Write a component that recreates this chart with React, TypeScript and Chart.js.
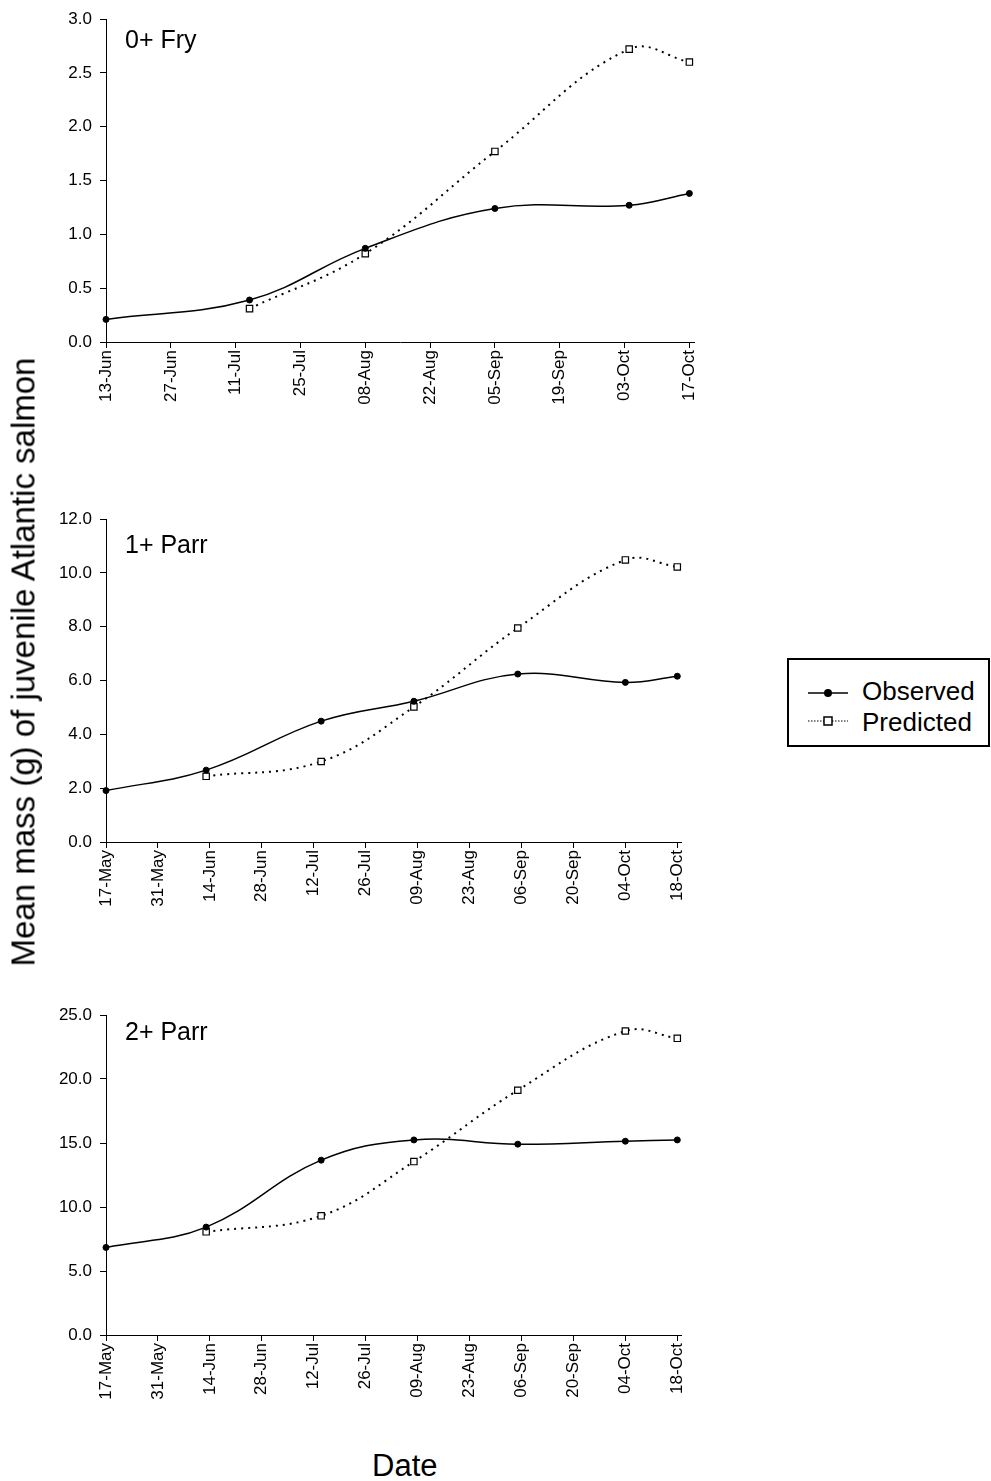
import React, { useEffect, useRef } from 'react';
import { Chart, registerables } from 'chart.js';

Chart.register(...registerables);

const FONT = '"Liberation Sans", Arial, Helvetica, sans-serif';

// ---- Panel 1: 0+ Fry (x = day of year) ----
const fryTickDays = [164, 178, 192, 206, 220, 234, 248, 262, 276, 290];
const fryTickLabels = ['13-Jun', '27-Jun', '11-Jul', '25-Jul', '08-Aug', '22-Aug', '05-Sep', '19-Sep', '03-Oct', '17-Oct'];
const fryObsDays = [164, 195, 220, 248, 277, 290];
const fryObsMass = [0.21, 0.39, 0.87, 1.24, 1.27, 1.38];
const fryPredDays = [195, 220, 248, 277, 290];
const fryPredMass = [0.31, 0.82, 1.77, 2.72, 2.6];

// ---- Panels 2 and 3: shared date ticks ----
const parrTickDays = [137, 151, 165, 179, 193, 207, 221, 235, 249, 263, 277, 291];
const parrTickLabels = ['17-May', '31-May', '14-Jun', '28-Jun', '12-Jul', '26-Jul', '09-Aug', '23-Aug', '06-Sep', '20-Sep', '04-Oct', '18-Oct'];

// ---- Panel 2: 1+ Parr ----
const parr1ObsDays = [137, 164, 195, 220, 248, 277, 291];
const parr1ObsMass = [1.91, 2.67, 4.49, 5.23, 6.24, 5.93, 6.16];
const parr1PredDays = [164, 195, 220, 248, 277, 291];
const parr1PredMass = [2.44, 2.99, 5.02, 7.95, 10.48, 10.22];

// ---- Panel 3: 2+ Parr ----
const parr2ObsDays = [137, 164, 195, 220, 248, 277, 291];
const parr2ObsMass = [6.84, 8.43, 13.66, 15.24, 14.91, 15.14, 15.24];
const parr2PredDays = [164, 195, 220, 248, 277, 291];
const parr2PredMass = [8.06, 9.31, 13.55, 19.12, 23.75, 23.18];

const seriesNames = ['Observed', 'Predicted'];

type PanelCfg = {
  label: string;
  top: number;
  height: number;
  padTop: number;
  padRight: number;
  labelBaseline: number;
  xMin: number;
  xMax: number;
  tickDays: number[];
  tickLabels: string[];
  yMax: number;
  yStep: number;
  obsDays: number[];
  obsMass: number[];
  predDays: number[];
  predMass: number[];
};

const panels: PanelCfg[] = [
  {
    label: '0+ Fry', top: 0, height: 407, padTop: 19, padRight: 26, labelBaseline: 48,
    xMin: 164, xMax: 291, tickDays: fryTickDays, tickLabels: fryTickLabels, yMax: 3, yStep: 0.5,
    obsDays: fryObsDays, obsMass: fryObsMass, predDays: fryPredDays, predMass: fryPredMass,
  },
  {
    label: '1+ Parr', top: 500, height: 407, padTop: 19, padRight: 39, labelBaseline: 53,
    xMin: 137, xMax: 292, tickDays: parrTickDays, tickLabels: parrTickLabels, yMax: 12, yStep: 2,
    obsDays: parr1ObsDays, obsMass: parr1ObsMass, predDays: parr1PredDays, predMass: parr1PredMass,
  },
  {
    label: '2+ Parr', top: 996, height: 404, padTop: 19, padRight: 39, labelBaseline: 44,
    xMin: 137, xMax: 292, tickDays: parrTickDays, tickLabels: parrTickLabels, yMax: 25, yStep: 5,
    obsDays: parr2ObsDays, obsMass: parr2ObsMass, predDays: parr2PredDays, predMass: parr2PredMass,
  },
];

const CANVAS_W = 720;
const AXIS_LEFT = 106;
const X_AXIS_H = 65;

function Panel({ cfg }: { cfg: PanelCfg }) {
  const ref = useRef<HTMLCanvasElement | null>(null);
  useEffect(() => {
    if (!ref.current) return;
    const labelPlugin = {
      id: 'panelLabel',
      afterDraw(chart: any) {
        const ctx = chart.ctx;
        ctx.save();
        ctx.font = `25px ${FONT}`;
        ctx.fillStyle = '#000';
        ctx.textBaseline = 'alphabetic';
        ctx.textAlign = 'left';
        ctx.fillText(cfg.label, 125, cfg.labelBaseline);
        ctx.restore();
      },
    };
    const tickFont = { family: FONT, size: 17 };
    const chart = new Chart(ref.current, {
      type: 'line',
      data: {
        datasets: [
          {
            label: seriesNames[0],
            data: cfg.obsDays.map((d, i) => ({ x: d, y: cfg.obsMass[i] })),
            borderColor: '#000',
            borderWidth: 1.5,
            tension: 0.4,
            pointStyle: 'circle',
            pointRadius: 3,
            pointBackgroundColor: '#000',
            pointBorderColor: '#000',
            pointBorderWidth: 1,
            clip: false,
          },
          {
            label: seriesNames[1],
            data: cfg.predDays.map((d, i) => ({ x: d, y: cfg.predMass[i] })),
            borderColor: '#000',
            borderWidth: 2,
            borderDash: [2, 5],
            tension: 0.4,
            pointStyle: 'rect',
            pointRadius: 4.5,
            pointBackgroundColor: '#fff',
            pointBorderColor: '#000',
            pointBorderWidth: 1.2,
            clip: false,
          },
        ],
      },
      options: {
        animation: false,
        responsive: false,
        maintainAspectRatio: false,
        layout: { padding: { top: cfg.padTop, right: cfg.padRight, left: 0, bottom: 0 } },
        plugins: { legend: { display: false }, tooltip: { enabled: false }, title: { display: false } },
        scales: {
          x: {
            type: 'linear',
            min: cfg.xMin,
            max: cfg.xMax,
            afterBuildTicks: (scale: any) => {
              scale.ticks = cfg.tickDays.map((v) => ({ value: v }));
            },
            afterFit: (scale: any) => {
              scale.height = X_AXIS_H;
            },
            ticks: {
              autoSkip: false,
              minRotation: 90,
              maxRotation: 90,
              padding: 2,
              color: '#000',
              font: tickFont,
              callback: (_v: any, i: number) => cfg.tickLabels[i],
            },
            grid: { display: true, drawOnChartArea: false, drawTicks: true, tickLength: 6, tickColor: '#000', tickWidth: 1 },
            border: { display: true, color: '#000', width: 1 },
          },
          y: {
            type: 'linear',
            min: 0,
            max: cfg.yMax,
            afterFit: (scale: any) => {
              scale.width = AXIS_LEFT;
            },
            ticks: {
              stepSize: cfg.yStep,
              padding: 8,
              color: '#000',
              font: tickFont,
              callback: (v: any) => Number(v).toFixed(1),
            },
            grid: { display: true, drawOnChartArea: false, drawTicks: true, tickLength: 6, tickColor: '#000', tickWidth: 1 },
            border: { display: true, color: '#000', width: 1 },
          },
        },
      },
      plugins: [labelPlugin],
    } as any);
    return () => chart.destroy();
  }, [cfg]);
  return (
    <canvas
      ref={ref}
      width={CANVAS_W}
      height={cfg.height}
      style={{ position: 'absolute', left: 0, top: cfg.top, width: CANVAS_W, height: cfg.height, display: 'block' }}
    />
  );
}

export default function App() {
  return (
    <div
      style={{
        position: 'absolute', left: 0, top: 0, width: 991, height: 1481,
        background: '#fff', fontFamily: FONT, color: '#000', overflow: 'hidden',
      }}
    >
      {panels.map((p) => (
        <Panel key={p.label} cfg={p} />
      ))}

      {/* Y axis title */}
      <div
        style={{
          position: 'absolute', left: 23, top: 662, fontSize: 33, lineHeight: '33px',
          whiteSpace: 'nowrap', transform: 'translate(-50%, -50%) rotate(-90deg)',
        }}
      >
        Mean mass (g) of juvenile Atlantic salmon
      </div>

      {/* X axis title */}
      <div style={{ position: 'absolute', left: 372, top: 1450, fontSize: 31, lineHeight: '31px', whiteSpace: 'nowrap' }}>
        Date
      </div>

      {/* Legend */}
      <div
        style={{
          position: 'absolute', left: 787, top: 658, width: 203, height: 89,
          border: '2px solid #000', boxSizing: 'border-box',
        }}
      />
      <svg style={{ position: 'absolute', left: 805, top: 680 }} width={50} height={50}>
        <line x1={3} y1={13} x2={43} y2={13} stroke="#000" strokeWidth={1.5} />
        <circle cx={23} cy={13} r={4} fill="#000" />
        <line x1={3} y1={41} x2={43} y2={41} stroke="#000" strokeWidth={1} strokeDasharray="1.5 1.5" />
        <rect x={19} y={37} width={8} height={8} fill="#fff" stroke="#000" strokeWidth={1.5} />
      </svg>
      <div style={{ position: 'absolute', left: 862, top: 678, fontSize: 26, lineHeight: '26px', whiteSpace: 'nowrap' }}>
        {seriesNames[0]}
      </div>
      <div style={{ position: 'absolute', left: 862, top: 709, fontSize: 26, lineHeight: '26px', whiteSpace: 'nowrap' }}>
        {seriesNames[1]}
      </div>
    </div>
  );
}
